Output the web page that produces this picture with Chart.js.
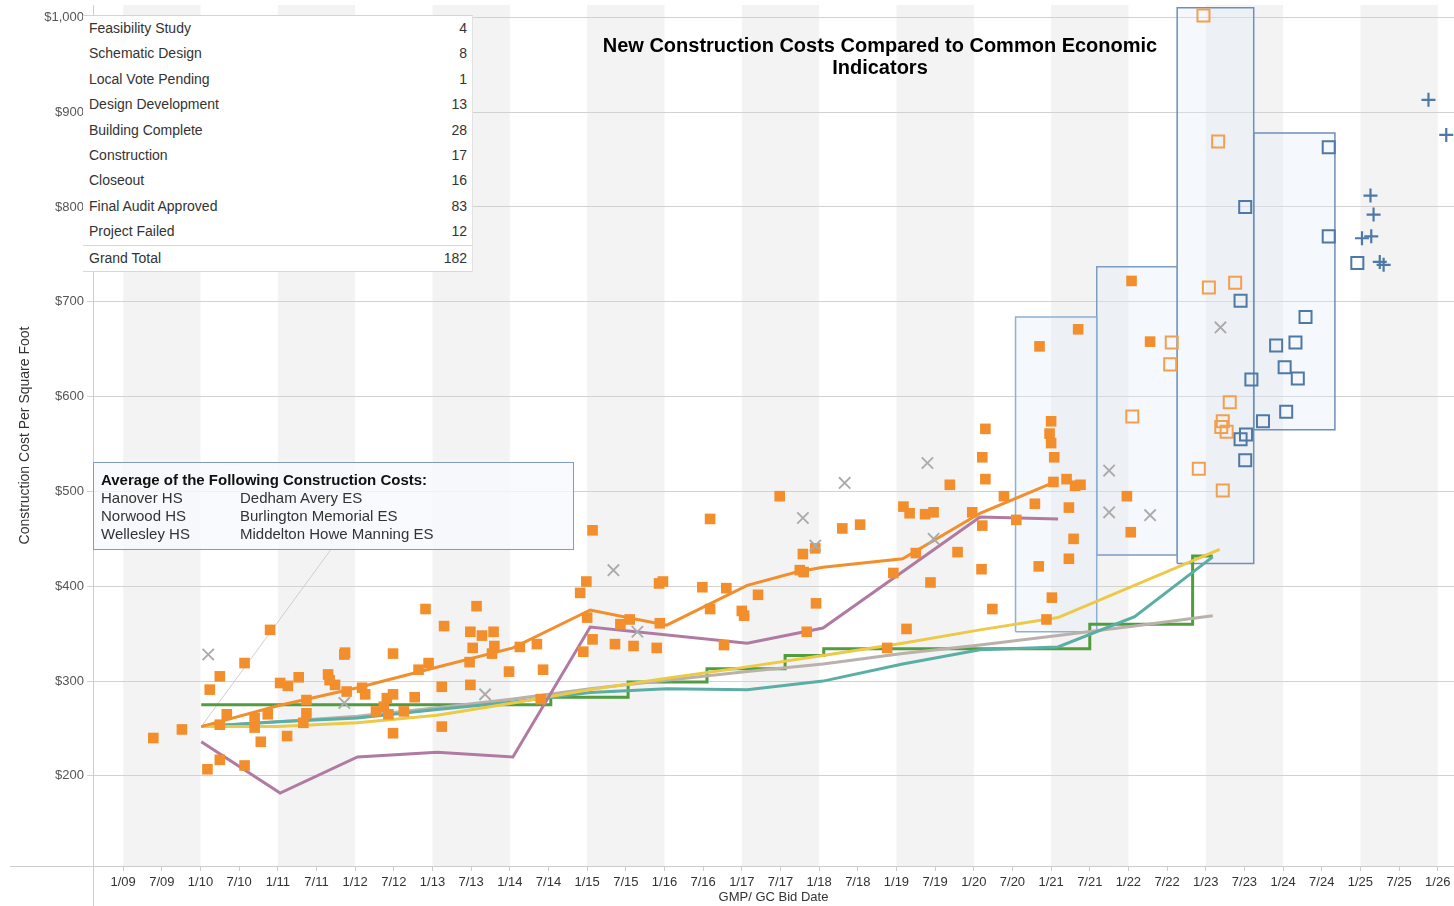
<!DOCTYPE html>
<html>
<head>
<meta charset="utf-8">
<script src="https://cdn.jsdelivr.net/npm/chart.js@4.4.1/dist/chart.umd.min.js"></script>
<style>
  body { margin: 0; background: #fff; font-family: "Liberation Sans", Arial, sans-serif; }
  #wrap { position: relative; width: 1454px; height: 906px; overflow: hidden; }
  #status { position: absolute; left: 83px; top: 15px; width: 389px; background: #fff; border-top: 1px solid #d4d4d4; border-right: 1px solid #e2e2e2; font-size: 14px; color: #333; }
  #status .row { display: flex; justify-content: space-between; height: 25.4px; line-height: 25.4px; padding: 0 5px 0 6px; }
  #status .total { border-top: 1px solid #d8d8d8; border-bottom: 1px solid #d8d8d8; }
  #title { position: absolute; left: 570px; top: 34px; width: 620px; text-align: center; font-weight: bold; font-size: 20px; line-height: 22px; color: #000; }
  #note { position: absolute; left: 93px; top: 462px; width: 481px; height: 88px; box-sizing: border-box; border: 1.5px solid #7d9cc0; background: rgba(246,249,253,0.8); font-size: 15px; line-height: 18px; color: #333; padding: 8px 0 0 7px; }
  #note b { color: #111; }
  #note .cols { display: flex; }
  #note .cols div:first-child { width: 139px; }
</style>
</head>
<body>
<div id="wrap">
  <canvas id="chart"></canvas>
  <div id="status"></div>
  <div id="title">New Construction Costs Compared to Common Economic Indicators</div>
  <div id="note"></div>
</div>
<script>
// project status table
const statusLabels = ['Feasibility Study', 'Schematic Design', 'Local Vote Pending', 'Design Development',
  'Building Complete', 'Construction', 'Closeout', 'Final Audit Approved', 'Project Failed'];
const statusCounts = [4, 8, 1, 13, 28, 17, 16, 83, 12];
const grandTotal = 182;

const avgSchoolsA = ['Hanover HS', 'Norwood HS', 'Wellesley HS'];
const avgSchoolsB = ['Dedham Avery ES', 'Burlington Memorial ES', 'Middelton Howe Manning ES'];

// axis ticks
const xTickLabels = ['1/09','7/09','1/10','7/10','1/11','7/11','1/12','7/12','1/13','7/13','1/14','7/14',
  '1/15','7/15','1/16','7/16','1/17','7/17','1/18','7/18','1/19','7/19','1/20','7/20','1/21','7/21',
  '1/22','7/22','1/23','7/23','1/24','7/24','1/25','7/25','1/26'];
const yTickValues = [200, 300, 400, 500, 600, 700, 800, 900, 1000];

// scatter points: [bid date (decimal year), $ per sq ft]
const completedPts = [[2009.39,240],[2009.76,249],[2010.12,291],[2010.25,305],[2010.57,319],[2010.90,354],[2010.34,265],
  [2010.25,254],[2010.09,207],[2010.25,217],[2010.57,211],[2010.70,261],[2010.70,251],[2010.78,236],[2010.87,265],
  [2011.03,298],[2011.13,295],[2011.27,304],[2011.12,242],[2011.33,256],[2011.37,280],[2011.37,266],[2011.65,307],
  [2011.67,301],[2011.74,296],[2011.87,330],[2011.86,328],[2011.89,289],[2012.09,293],[2012.13,286],[2012.27,268],
  [2012.37,273],[2012.41,282],[2012.43,265],[2012.49,286],[2012.49,245],[2012.49,329],[2012.63,268],[2012.77,283],
  [2012.82,312],[2012.95,319],[2012.91,376],[2013.15,358],[2013.12,294],[2013.12,252],[2013.49,352],[2013.57,379],
  [2013.52,335],[2013.48,320],[2013.49,296],[2013.64,348],[2013.79,352],[2013.80,337],[2013.77,329],[2013.99,310],
  [2014.13,336],[2014.35,339],[2014.43,312],[2014.40,281],[2014.95,331],[2015.07,344],[2015.00,367],[2015.07,459],
  [2014.99,405],[2014.91,393],[2015.36,339],[2015.43,360],[2015.55,365],[2015.60,337],[2015.90,335],[2015.93,403],
  [2015.98,405],[2015.94,361],[2016.49,399],[2016.59,471],[2016.59,376],[2016.80,398],[2016.77,338],[2017.00,374],
  [2017.03,369],[2017.21,391],[2017.49,495],[2017.79,434],[2017.95,440],[2017.75,417],[2017.80,415],[2017.96,382],
  [2017.84,352],[2018.30,461],[2018.53,465],[2018.88,335],[2019.13,355],[2018.96,414],[2019.09,484],[2019.17,477],
  [2019.37,476],[2019.48,478],[2019.25,435],[2019.44,404],[2019.69,507],[2019.79,436],[2019.98,478],[2020.11,464],
  [2020.10,418],[2020.15,566],[2020.11,536],[2020.15,513],[2020.24,376],[2020.39,495],[2020.55,470],[2020.79,487],
  [2020.85,653],[2020.84,421],[2021.01,388],[2020.94,365],[2021.00,574],[2020.98,561],[2021.00,551],[2021.04,536],
  [2021.03,510],[2021.20,513],[2021.31,506],[2021.38,507],[2021.23,483],[2021.29,450],[2021.23,429],[2021.35,671],
  [2022.04,722],[2022.28,658],[2021.98,495],[2022.03,457]];
const constructionPts = [[2022.97,1002],[2023.16,869],[2023.04,715],[2023.38,720],[2022.56,657],[2022.54,634],
  [2022.05,579],[2023.31,594],[2023.22,574],[2023.20,568],[2023.27,563],[2022.91,524],[2023.22,501]];
const designPts = [[2024.59,863],[2023.51,800],[2024.59,769],[2024.96,741],[2023.45,701],[2024.29,684],[2023.91,654],
  [2024.16,657],[2024.02,631],[2024.19,619],[2023.59,618],[2024.04,584],[2023.74,574],[2023.52,560],[2023.45,555],
  [2023.51,533]];
const earlyPts = [[2025.88,913],[2026.11,876],[2025.13,812],[2025.17,792],[2025.02,767],[2025.14,769],[2025.25,742],
  [2025.30,739]];
const failedPts = [[2010.10,328],[2011.86,277],[2013.68,286],[2015.34,417],[2015.65,352],[2017.79,472],[2017.95,443],
  [2018.33,509],[2019.40,530],[2019.48,450],[2021.75,522],[2021.75,478],[2022.28,475],[2023.19,673]];

// indicator lines
const avgCostX = [2010.01, 2011.0, 2012.03, 2013.03, 2014.04, 2015.04, 2015.52, 2016.03, 2017.07, 2017.71, 2018.05, 2019.08, 2020.08, 2021.05];
const avgCostY = [252, 274, 293, 314, 335, 375, 367, 359, 401, 415, 420, 429, 477, 510];
const purpleX = [2010.01, 2011.03, 2012.03, 2013.06, 2014.04, 2015.04, 2017.07, 2018.05, 2020.08, 2021.09];
const purpleY = [236, 182, 220, 225, 220, 357, 340, 356, 473, 471];
const yellowX = [2010.01, 2011.0, 2012.03, 2013.06, 2014.04, 2015.04, 2016.03, 2017.07, 2018.05, 2019.08, 2020.08, 2021.09, 2023.18];
const yellowY = [252, 252, 256, 264, 277, 291, 303, 315, 327, 340, 354, 367, 439];
const indexX = [2010.01, 2011.0, 2012.03, 2013.06, 2014.04, 2015.04, 2016.03, 2017.07, 2018.05, 2019.08, 2020.08, 2021.09, 2022.08, 2023.09];
const tealY = [252, 257, 261, 270, 278, 288, 292, 291, 300, 318, 333, 336, 368, 431];
const grayY = [252, 257, 263, 272, 281, 292, 301, 310, 318, 329, 338, 348, 358, 369];
const greenX = [2010.01, 2014.53, 2015.53, 2016.55, 2017.56, 2018.06, 2021.5, 2022.83, 2023.09];
const greenY = [275, 283, 299, 313, 327, 334, 360, 432, 432];

// range boxes
const boxLeft = [2020.54, 2021.59, 2022.63, 2023.62];
const boxRight = [2021.59, 2022.63, 2023.62, 2024.67];
const boxLow = [352, 433, 424, 565];
const boxHigh = [684, 737, 1010, 878];
const boxColors = ['#8fb0d2', '#7d9cc0', '#6f8fb8', '#6f8fb8'];

// note leader line ends
const leaderX = [2010.01, 2011.68];
const leaderY = [252, 438];

// html parts
const statusEl = document.getElementById('status');
statusLabels.forEach((s, i) => {
  statusEl.innerHTML += `<div class="row"><span>${s}</span><span>${statusCounts[i]}</span></div>`;
});
statusEl.innerHTML += `<div class="row total"><span>Grand Total</span><span>${grandTotal}</span></div>`;

const noteEl = document.getElementById('note');
noteEl.innerHTML = '<b>Average of the Following Construction Costs:</b>';
avgSchoolsA.forEach((s, i) => {
  noteEl.innerHTML += `<div class="cols"><div>${s}</div><div>${avgSchoolsB[i]}</div></div>`;
});

const toPts = arr => arr.map(p => ({ x: p[0], y: p[1] }));
const zip = (xs, ys) => xs.map((x, i) => ({ x: x, y: ys[i] }));

const lineDs = (xs, ys, color, extra) => Object.assign({
  type: 'line', data: zip(xs, ys), borderColor: color, borderWidth: 3,
  pointRadius: 0, fill: false, tension: 0, order: 5
}, extra || {});

const boxDs = boxLeft.map((l, i) => ({
  type: 'line',
  data: [{x: l, y: boxLow[i]}, {x: l, y: boxHigh[i]}, {x: boxRight[i], y: boxHigh[i]},
         {x: boxRight[i], y: boxLow[i]}, {x: l, y: boxLow[i]}],
  borderColor: boxColors[i], borderWidth: 1.5, backgroundColor: 'rgba(225,236,248,0.35)',
  fill: 'shape', pointRadius: 0, order: 10, clip: false
}));

// alternating year bands and the long axis lines
const bandsPlugin = {
  id: 'bands',
  beforeDraw(chart) {
    const { ctx, chartArea: a, scales: { x } } = chart;
    ctx.save();
    ctx.fillStyle = '#f3f3f3';
    for (let yr = 2009; yr < x.max; yr += 2) {
      const l = Math.max(x.getPixelForValue(yr), a.left);
      const r = Math.min(x.getPixelForValue(yr + 1), a.right);
      ctx.fillRect(l, a.top, r - l, a.bottom - a.top);
    }
    ctx.restore();
  },
  afterDraw(chart) {
    const { ctx, chartArea: a } = chart;
    ctx.save();
    ctx.strokeStyle = '#cccccc';
    ctx.lineWidth = 1;
    ctx.beginPath();
    ctx.moveTo(10, Math.round(a.bottom) + 0.5);
    ctx.lineTo(a.left, Math.round(a.bottom) + 0.5);
    ctx.moveTo(Math.round(a.left) + 0.5, a.bottom);
    ctx.lineTo(Math.round(a.left) + 0.5, chart.height);
    ctx.stroke();
    ctx.restore();
  }
};

new Chart(document.getElementById('chart'), {
  type: 'scatter',
  data: {
    datasets: [
      { data: toPts(failedPts), pointStyle: 'crossRot', pointRadius: 8, borderColor: '#ababab', borderWidth: 1.9, order: 1, clip: false },
      { data: toPts(earlyPts), pointStyle: 'cross', pointRadius: 7, borderColor: '#4e79a7', borderWidth: 2.2, order: 1, clip: false },
      { data: toPts(designPts), pointStyle: 'rect', pointRadius: 8.5, borderColor: '#4e79a7', backgroundColor: 'rgba(0,0,0,0)', borderWidth: 2, order: 2, clip: false },
      { data: toPts(constructionPts), pointStyle: 'rect', pointRadius: 8.5, borderColor: '#f2a04e', backgroundColor: 'rgba(0,0,0,0)', borderWidth: 2, order: 2, clip: false },
      { data: toPts(completedPts), pointStyle: 'rect', pointRadius: 7.5, borderColor: '#f28e2b', backgroundColor: '#f28e2b', borderWidth: 0, order: 3, clip: false },
      lineDs(avgCostX, avgCostY, '#f28e2b', { order: 4 }),
      lineDs(purpleX, purpleY, '#b07aa1'),
      lineDs(yellowX, yellowY, '#edc948'),
      lineDs(indexX, tealY, '#5aaea3'),
      lineDs(indexX, grayY, '#bab0ac'),
      lineDs(greenX, greenY, '#4f9d3e', { stepped: 'before' }),
      lineDs(leaderX, leaderY, '#cfcfcf', { borderWidth: 1, order: 9 }),
      ...boxDs
    ]
  },
  options: {
    responsive: true,
    maintainAspectRatio: false,
    animation: false,
    layout: { autoPadding: false, padding: { top: 5, right: 0, left: 0, bottom: 0 } },
    plugins: { legend: { display: false }, tooltip: { enabled: false } },
    scales: {
      x: {
        type: 'linear', min: 2008.61, max: 2026.21,
        afterBuildTicks: axis => { axis.ticks = xTickLabels.map((_, i) => ({ value: 2009 + i * 0.5 })); },
        afterFit: axis => { axis.height = 40; axis.paddingLeft = 0; axis.paddingRight = 0; },
        ticks: { autoSkip: false, maxRotation: 0, padding: 4, color: '#333', font: { family: 'Liberation Sans', size: 13 },
          callback: (v, i) => xTickLabels[i] },
        grid: { drawOnChartArea: false, tickLength: 5, color: '#cccccc' },
        border: { display: true, color: '#cccccc' },
        title: { display: true, text: 'GMP/ GC Bid Date', color: '#333', padding: { top: 0, bottom: 1 },
          font: { family: 'Liberation Sans', size: 13 } }
      },
      y: {
        type: 'linear', min: 105, max: 1013,
        afterBuildTicks: axis => { axis.ticks = yTickValues.map(v => ({ value: v })); },
        afterFit: axis => { axis.width = 93; axis.paddingTop = 0; axis.paddingBottom = 0; },
        ticks: { padding: 3, color: '#555', font: { family: 'Liberation Sans', size: 13 },
          callback: v => '$' + v.toLocaleString('en-US') },
        grid: { color: '#d2d2d2', tickLength: 6 },
        border: { display: true, color: '#cccccc' },
        title: { display: true, text: 'Construction Cost Per Square Foot', color: '#333', padding: { top: 17 },
          font: { family: 'Liberation Sans', size: 14 } }
      }
    }
  },
  plugins: [bandsPlugin]
});
</script>
</body>
</html>
